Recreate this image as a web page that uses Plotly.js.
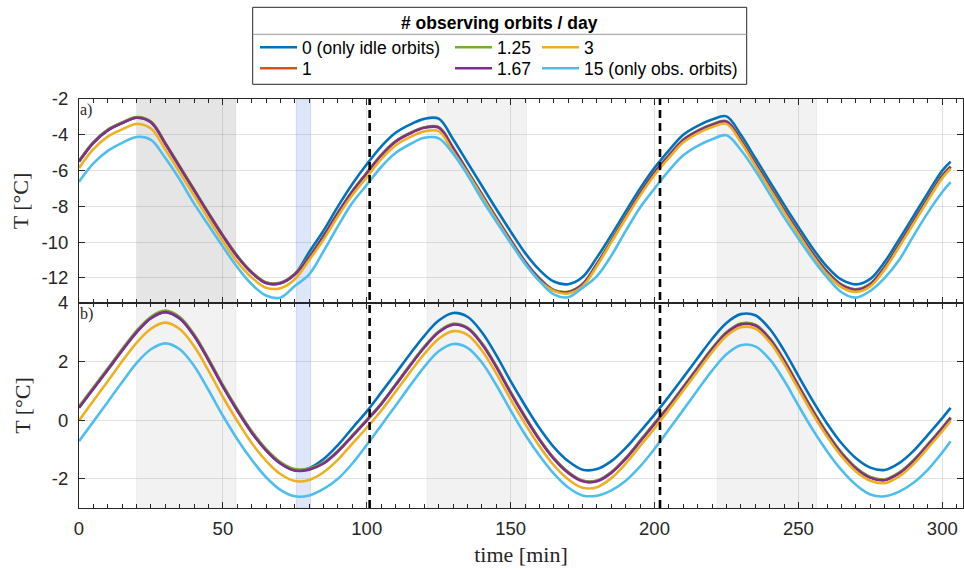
<!DOCTYPE html>
<html><head><meta charset="utf-8">
<script src="https://cdn.plot.ly/plotly-3.0.1.min.js"></script>
<style>html,body{margin:0;padding:0;background:#fff}</style>
</head><body><div id="chart" style="width:964px;height:569px"></div>
<script>
// ---- data ----
const time = [0,5,10,15,20,25,30,35,40,45,50,55,60,65,70,75,80,85,90,95,100,
  105,110,115,120,125,130,135,140,145,150,155,160,165,170,175,180,185,190,195,200,
  205,210,215,220,225,230,235,240,245,250,255,260,265,270,275,280,285,290,295,300,302.9];

const seriesNames = ['0 (only idle orbits)','1','1.25','1.67','3','15 (only obs. orbits)'];
const seriesColors = ['#0072BD','#D95319','#77AC30','#7E2F8E','#EDB120','#4DBEEE'];

// panel a)
const topIdle = [-5.5,-4.45,-3.75,-3.35,-3.05,-3.3,-4.5,-5.8,-7.1,-8.4,-9.65,-10.8,-11.7,-12.28,-12.3,-11.8,-10.55,-9.35,-8.0,-6.75,-5.65,
  -4.66,-3.89,-3.43,-3.11,-3.1,-4.25,-5.55,-6.85,-8.15,-9.4,-10.6,-11.55,-12.2,-12.35,-11.95,-10.85,-9.6,-8.28,-7.0,-5.85,
  -4.87,-4.0,-3.5,-3.15,-2.97,-4.0,-5.3,-6.6,-7.9,-9.15,-10.35,-11.38,-12.1,-12.36,-12.05,-11.1,-9.85,-8.55,-7.25,-6.0,-5.5];
const topObs1 = [-5.48,-4.43,-3.73,-3.33,-3.03,-3.28,-4.48,-5.78,-7.08,-8.38,-9.63,-10.78,-11.68,-12.26,-12.28,-11.78,-10.83,-9.65,-8.35,-7.15,-6.13,
  -5.14,-4.37,-3.91,-3.59,-3.58,-4.73,-6.03,-7.33,-8.63,-9.88,-11.08,-12.03,-12.68,-12.78,-12.35,-11.21,-9.92,-8.56,-7.26,-6.1,
  -5.15,-4.28,-3.78,-3.43,-3.25,-4.28,-5.58,-6.88,-8.18,-9.43,-10.63,-11.66,-12.38,-12.64,-12.33,-11.38,-10.13,-8.83,-7.53,-6.28,-5.78];
const topObs125 = [-5.46,-4.41,-3.71,-3.31,-3.01,-3.26,-4.46,-5.76,-7.06,-8.36,-9.61,-10.76,-11.66,-12.24,-12.26,-11.76,-10.81,-9.63,-8.34,-7.14,-6.12,
  -5.13,-4.36,-3.9,-3.58,-3.57,-4.72,-6.02,-7.32,-8.62,-9.87,-11.07,-12.02,-12.67,-12.77,-12.34,-11.2,-9.91,-8.55,-7.25,-6.09,
  -5.14,-4.27,-3.77,-3.42,-3.24,-4.27,-5.57,-6.87,-8.17,-9.42,-10.62,-11.65,-12.37,-12.63,-12.32,-11.37,-10.12,-8.82,-7.52,-6.27,-5.77];
const topObs167 = [-5.5,-4.45,-3.75,-3.35,-3.05,-3.3,-4.5,-5.8,-7.1,-8.4,-9.65,-10.8,-11.7,-12.28,-12.3,-11.8,-10.85,-9.67,-8.37,-7.17,-6.15,
  -5.16,-4.39,-3.93,-3.61,-3.6,-4.75,-6.05,-7.35,-8.65,-9.9,-11.1,-12.05,-12.7,-12.8,-12.37,-11.23,-9.94,-8.58,-7.28,-6.12,
  -5.17,-4.3,-3.8,-3.45,-3.27,-4.3,-5.6,-6.9,-8.2,-9.45,-10.65,-11.68,-12.4,-12.66,-12.35,-11.4,-10.15,-8.85,-7.55,-6.3,-5.8];
const topObs3 = [-5.85,-4.8,-4.1,-3.7,-3.4,-3.65,-4.83,-6.1,-7.4,-8.7,-9.95,-11.1,-11.97,-12.55,-12.57,-12.07,-11.0,-9.85,-8.55,-7.37,-6.37,
  -5.36,-4.59,-4.13,-3.81,-3.8,-4.95,-6.15,-7.45,-8.75,-10.0,-11.2,-12.15,-12.72,-12.87,-12.47,-11.33,-10.0,-8.68,-7.4,-6.25,
  -5.29,-4.42,-3.92,-3.57,-3.39,-4.42,-5.72,-7.02,-8.32,-9.57,-10.77,-11.8,-12.52,-12.78,-12.47,-11.52,-10.27,-8.97,-7.67,-6.42,-5.9];
const topObs15 = [-6.63,-5.6,-4.9,-4.45,-4.12,-4.28,-5.3,-6.5,-7.85,-9.05,-10.25,-11.4,-12.35,-12.98,-13.1,-12.45,-11.8,-10.5,-9.1,-7.8,-6.8,
  -5.8,-5.02,-4.53,-4.17,-4.2,-5.05,-6.25,-7.6,-8.85,-10.05,-11.2,-12.17,-12.92,-13.08,-12.55,-11.9,-10.75,-9.37,-8.06,-7.0,
  -6.0,-5.15,-4.62,-4.25,-4.03,-4.85,-6.0,-7.3,-8.6,-9.8,-10.95,-11.97,-12.8,-13.1,-12.72,-12.0,-11.0,-9.65,-8.35,-7.2,-6.65];

// panel b)
const botIdle = [0.42,1.07,1.72,2.38,3.0,3.48,3.69,3.47,2.88,2.05,1.15,0.33,-0.42,-1.03,-1.48,-1.72,-1.64,-1.33,-0.85,-0.27,0.3,
  0.94,1.59,2.25,2.88,3.4,3.66,3.53,3.0,2.22,1.33,0.5,-0.27,-0.92,-1.4,-1.69,-1.67,-1.4,-0.95,-0.39,0.19,
  0.81,1.46,2.12,2.77,3.32,3.62,3.58,3.12,2.38,1.51,0.66,-0.12,-0.79,-1.3,-1.62,-1.7,-1.47,-1.05,-0.5,0.07,0.42];
const botObs1 = [0.44,1.09,1.74,2.4,3.02,3.5,3.71,3.49,2.9,2.07,1.17,0.35,-0.4,-1.01,-1.46,-1.7,-1.67,-1.46,-1.05,-0.53,0.0,
  0.56,1.21,1.87,2.5,3.02,3.28,3.15,2.62,1.84,0.95,0.12,-0.65,-1.3,-1.78,-2.07,-2.07,-1.78,-1.3,-0.71,-0.11,
  0.48,1.13,1.79,2.44,2.99,3.29,3.25,2.79,2.05,1.18,0.33,-0.45,-1.12,-1.63,-1.95,-2.03,-1.8,-1.38,-0.83,-0.26,0.09];
const botObs125 = [0.47,1.12,1.77,2.43,3.05,3.53,3.74,3.52,2.93,2.1,1.2,0.38,-0.37,-0.98,-1.43,-1.67,-1.65,-1.45,-1.04,-0.52,0.01,
  0.57,1.22,1.88,2.51,3.03,3.29,3.16,2.63,1.85,0.96,0.13,-0.64,-1.29,-1.77,-2.06,-2.06,-1.77,-1.29,-0.7,-0.1,
  0.49,1.14,1.8,2.45,3.0,3.3,3.26,2.8,2.06,1.19,0.34,-0.44,-1.11,-1.62,-1.94,-2.02,-1.79,-1.37,-0.82,-0.25,0.1];
const botObs167 = [0.42,1.07,1.72,2.38,3.0,3.48,3.69,3.47,2.88,2.05,1.15,0.33,-0.42,-1.03,-1.48,-1.72,-1.69,-1.48,-1.07,-0.55,-0.02,
  0.54,1.19,1.85,2.48,3.0,3.26,3.13,2.6,1.82,0.93,0.1,-0.67,-1.32,-1.8,-2.09,-2.09,-1.8,-1.32,-0.73,-0.13,
  0.46,1.11,1.77,2.42,2.97,3.27,3.23,2.77,2.03,1.16,0.31,-0.47,-1.14,-1.65,-1.97,-2.05,-1.82,-1.4,-0.85,-0.28,0.07];
const botObs3 = [-0.01,0.66,1.33,2.01,2.64,3.12,3.33,3.11,2.52,1.69,0.79,-0.03,-0.78,-1.39,-1.84,-2.08,-2.04,-1.78,-1.35,-0.8,-0.26,
  0.32,0.97,1.63,2.26,2.78,3.04,2.91,2.38,1.6,0.71,-0.12,-0.89,-1.54,-2.02,-2.31,-2.29,-1.98,-1.48,-0.88,-0.28,
  0.36,1.01,1.67,2.32,2.87,3.17,3.13,2.67,1.93,1.06,0.21,-0.57,-1.24,-1.75,-2.07,-2.15,-1.92,-1.5,-0.95,-0.38,-0.03];
const botObs15 = [-0.72,-0.05,0.62,1.3,1.95,2.42,2.62,2.42,1.85,1.03,0.15,-0.65,-1.35,-1.95,-2.38,-2.6,-2.57,-2.35,-2.0,-1.48,-0.85,
  -0.18,0.49,1.17,1.82,2.35,2.6,2.47,1.97,1.2,0.33,-0.49,-1.21,-1.83,-2.3,-2.57,-2.58,-2.4,-2.07,-1.58,-0.98,
  -0.32,0.35,1.03,1.69,2.25,2.56,2.52,2.08,1.36,0.5,-0.33,-1.07,-1.71,-2.21,-2.54,-2.6,-2.44,-2.14,-1.69,-1.1,-0.72];

const sunWindows = [[20,54.5],[121,155.5],[221.8,256.3]];   // grey shaded intervals [min]
const obsWindows = [[75.5,80.5]];                           // blue shaded interval [min]
const orbitMarks = [101, 201.9];                            // dashed vertical lines [min]
const xTicks = [0,50,100,150,200,250,300];
const topTicks = [-12,-10,-8,-6,-4,-2];
const botTicks = [-2,0,2,4];
const legendTitle = '# observing orbits / day';

// ---- figure ----
const topSeries = [topIdle, topObs1, topObs125, topObs167, topObs3, topObs15];
const botSeries = [botIdle, botObs1, botObs125, botObs167, botObs3, botObs15];
const legendIds = ['legend','legend2','legend3','legend4','legend5','legend6'];

const traces = [];
topSeries.forEach((ys, i) => traces.push({
  x: time, y: ys, xaxis: 'x', yaxis: 'y', type: 'scatter', mode: 'lines',
  name: seriesNames[i], legend: legendIds[i],
  line: {color: seriesColors[i], width: 2.6, shape: 'spline', smoothing: 1}
}));
botSeries.forEach((ys, i) => traces.push({
  x: time, y: ys, xaxis: 'x2', yaxis: 'y2', type: 'scatter', mode: 'lines',
  name: seriesNames[i], showlegend: false,
  line: {color: seriesColors[i], width: 2.6, shape: 'spline', smoothing: 1}
}));

const L = 79, T = 99, W = 884, H = 409;
const px2paperX = p => (p - L) / W;
const px2paperY = p => 1 - (p - T) / H;

const shapes = [];
sunWindows.forEach((w, k) => {
  shapes.push({type:'rect', xref:'x', yref:'y domain', x0:w[0], x1:w[1], y0:0, y1:1, layer:'below',
    fillcolor: k === 0 ? 'rgb(229,229,229)' : 'rgb(242,242,242)', line:{width:1, color:'rgba(0,0,0,0.05)'}});
  shapes.push({type:'rect', xref:'x', yref:'y2 domain', x0:w[0], x1:w[1], y0:0, y1:1, layer:'below',
    fillcolor:'rgb(242,242,242)', line:{width:1, color:'rgba(0,0,0,0.05)'}});
});
obsWindows.forEach(w => {
  shapes.push({type:'rect', xref:'x', yref:'paper', x0:w[0], x1:w[1], y0:0, y1:1, layer:'below',
    fillcolor:'rgb(221,231,249)', line:{width:1, color:'rgba(90,130,230,0.2)'}});
});
orbitMarks.forEach(m => {
  shapes.push({type:'line', xref:'x', yref:'paper', x0:m, x1:m, y0:0, y1:1, layer:'above',
    line:{color:'#000', width:2.6, dash:'8px,5px'}});
});
// legend box + title separator
shapes.push({type:'rect', xref:'paper', yref:'paper', x0:px2paperX(252.7), x1:px2paperX(746.7),
  y0:px2paperY(84.3), y1:px2paperY(7.3), line:{color:'#262626', width:1}, fillcolor:'#fff', layer:'above'});
shapes.push({type:'line', xref:'paper', yref:'paper', x0:px2paperX(252.7), x1:px2paperX(746.7),
  y0:px2paperY(34.3), y1:px2paperY(34.3), line:{color:'#9a9a9a', width:1}, layer:'above'});

const legFont = {family:'Liberation Sans, Arial, sans-serif', size:17.5, color:'#000'};
const legPos = [[255,47.3],[255,68.3],[450,47.3],[450,68.3],[537,47.3],[537,68.3]];
const layout = {
  width: 964, height: 569,
  margin: {l: L, r: 964 - L - W, t: T, b: 569 - T - H, pad: 0},
  paper_bgcolor: '#fff', plot_bgcolor: 'rgba(0,0,0,0)',
  font: {family:'Liberation Sans, Arial, sans-serif', color:'#262626'},
  shapes: shapes,
  annotations: [
    {text: legendTitle, xref:'paper', yref:'paper', x: px2paperX(499.7), y: px2paperY(23), xanchor:'center', yanchor:'middle',
     showarrow:false, font:{family:'Liberation Sans, Arial, sans-serif', size:17.5, weight:'bold', color:'#000'}},
    {text:'a)', xref:'paper', yref:'paper', x: px2paperX(78), y: 1, xanchor:'left', yanchor:'top', showarrow:false,
     font:{family:'Liberation Serif, serif', size:16, color:'#262626'}},
    {text:'b)', xref:'paper', yref:'paper', x: px2paperX(78), y: px2paperY(303), xanchor:'left', yanchor:'top', showarrow:false,
     font:{family:'Liberation Serif, serif', size:16, color:'#262626'}}
  ]
};
legendIds.forEach((id, i) => {
  layout[id] = {x: px2paperX(legPos[i][0]), y: px2paperY(legPos[i][1]), xanchor:'left', yanchor:'middle',
    bgcolor:'rgba(0,0,0,0)', borderwidth:0, font: legFont, itemwidth: 37, orientation:'v'};
});

const tickFont = {family:'Liberation Sans, Arial, sans-serif', size:18.5, color:'#262626'};
const axisBase = {
  showline:true, linecolor:'#262626', linewidth:1, mirror:'ticks',
  ticks:'inside', tickcolor:'#262626', ticklen:6, tickwidth:1,
  showgrid:true, gridcolor:'rgba(38,38,38,0.13)', gridwidth:1, zeroline:false, tickfont: tickFont
};
const split = 1 - (303 - T) / H;
layout.xaxis = Object.assign({}, axisBase, {range:[0,307.2], anchor:'y', tickmode:'array', tickvals:xTicks, showticklabels:false,
  minor:{dtick:5, tick0:0, ticks:'inside', ticklen:4, tickcolor:'#262626', showgrid:false}});
layout.xaxis2 = Object.assign({}, axisBase, {range:[0,307.2], anchor:'y2', matches:'x', tickmode:'array', tickvals:xTicks,
  ticklabelstandoff: 4,
  minor:{dtick:5, tick0:0, ticks:'inside', ticklen:4, tickcolor:'#262626', showgrid:false},
  title:{text:'time [min]', font:{family:'Liberation Serif, serif', size:22, color:'#262626'}, standoff:8}});
layout.yaxis = Object.assign({}, axisBase, {domain:[split,1], range:[-13.4,-2], anchor:'x', tickmode:'array', tickvals:topTicks,
  ticktext: topTicks.map(String), ticklabelstandoff: 6,
  title:{text:'T [°C]', font:{family:'Liberation Serif, serif', size:22, color:'#262626'}, standoff:6}});
layout.yaxis2 = Object.assign({}, axisBase, {domain:[0,split], range:[-3,4], anchor:'x2', tickmode:'array', tickvals:botTicks,
  ticktext: botTicks.map(String), ticklabelstandoff: 6,
  title:{text:'T [°C]', font:{family:'Liberation Serif, serif', size:22, color:'#262626'}, standoff:15}});

Plotly.newPlot('chart', traces, layout, {displayModeBar:false, responsive:false});
</script>
</body></html>
